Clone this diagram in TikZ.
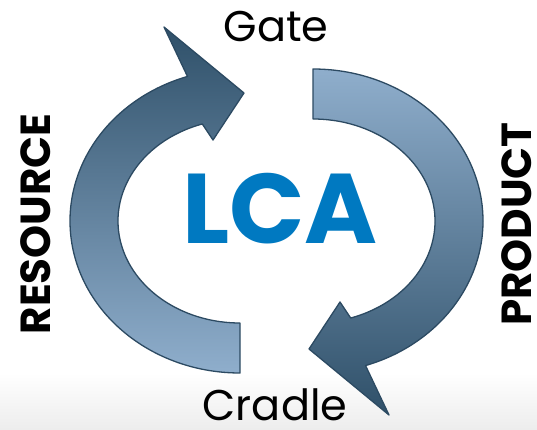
\documentclass[tikz,border=0pt]{standalone}
\usepackage{fontspec}
\setmainfont{Poppins}
\usepackage{xcolor}
\usetikzlibrary{calc}
\definecolor{arrowdark}{HTML}{2F5069}
\definecolor{arrowlight}{HTML}{8FAECC}
\definecolor{arrowline}{HTML}{2C4A62}
\definecolor{lcablue}{HTML}{0079C1}
\definecolor{floor}{HTML}{EDEDED}
\tikzset{
  arrowshape/.style={draw=arrowline, line width=1.3pt, line join=round},
  stage/.style={font=\fontsize{43}{43}\selectfont, text=black, inner sep=0pt, text depth=0pt},
  side/.style={font=\fontsize{42}{42}\selectfont\bfseries, text=black, inner sep=0pt, text depth=0pt, rotate=90},
  title/.style={font=\fontsize{99}{99}\selectfont\bfseries, text=lcablue, inner sep=0pt, text depth=0pt}
}

\begin{document}
\begin{tikzpicture}[x=1pt,y=1pt]
  \useasboundingbox (0,0) rectangle (537,429);
  % floor
  \shade[top color=white, bottom color=floor] (0,0) rectangle (537,56);

  \coordinate (L) at (240,208);
  \coordinate (R) at (313,208);

  % left arrow, up to the gate
  \shadedraw[arrowshape, top color=arrowdark, bottom color=arrowlight]
    ($(L)+(270:170 and 152)$) arc[start angle=270, end angle=108, x radius=170, y radius=152]
    -- (164,402) -- (244,336) -- (213,289)
    -- ($(L)+(108:122 and 102)$) arc[start angle=108, end angle=270, x radius=122, y radius=102]
    -- cycle;

  % right arrow, down to the cradle
  \shadedraw[arrowshape, top color=arrowlight, bottom color=arrowdark]
    ($(R)+(90:170 and 152)$) arc[start angle=90, end angle=-72, x radius=170, y radius=152]
    -- (389,14) -- (309,80) -- (340,127)
    -- ($(R)+(-72:122 and 102)$) arc[start angle=-72, end angle=90, x radius=122, y radius=102]
    -- cycle;

  \node[stage, anchor=base] (gate) at (276,387) {Gate};
  \node[stage, anchor=base] (cradle) at (275,9) {Cradle};
  \node[title, anchor=base] (lca) at (280,186) {LCA};
  \node[side, anchor=base] (resource) at (50,205) {RESOURCE};
  \node[side, anchor=base] (product) at (531,205) {PRODUCT};
\end{tikzpicture}
\end{document}
